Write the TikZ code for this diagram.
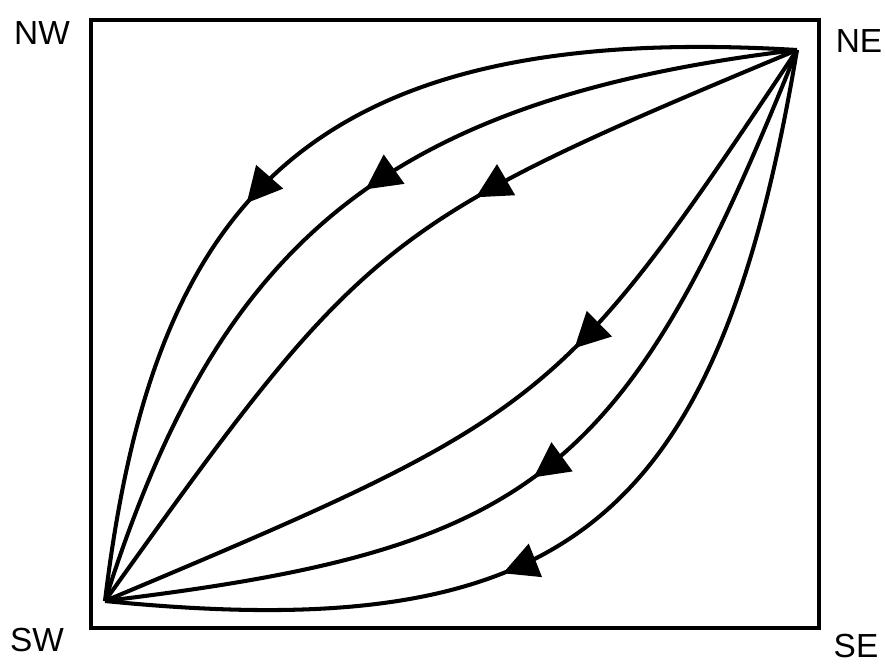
\documentclass[tikz,border=0pt]{standalone}
\usepackage{fontspec}
\setmainfont{Liberation Sans}
\usetikzlibrary{arrows.meta,decorations.markings}
\tikzset{
  flow/.style={line width=2.3pt,
    decoration={markings, mark=at position #1 with {\arrow{Triangle[length=0.7cm, width=0.7cm]}}},
    postaction={decorate}},
  corner/.style={font=\fontsize{19}{19}\selectfont, inner sep=0pt}
}
\begin{document}
\begin{tikzpicture}[x=0.02cm, y=-0.02cm]
  \useasboundingbox (0,0) rectangle (885,665);
  % frame
  \draw[line width=1.8pt] (91,20) rectangle (819,628);

  % corner labels
  \node[corner] (nw) at (42,33) {NW};
  \node[corner] (nelabel) at (859,41) {NE};
  \node[corner] (swlabel) at (37,640) {SW};
  \node[corner] (se) at (856,646) {SE};

  % end points of the flow lines
  \coordinate (ne) at (797,50);
  \coordinate (sw) at (105,601);

  % upper three
  \draw[flow=0.58] (ne) .. controls (298,20) and (152,211) .. (sw);
  \draw[flow=0.48] (ne) .. controls (377,100) and (216,250) .. (sw);
  \draw[flow=0.39] (ne) .. controls (380,224) and (366,236) .. (sw);

  % lower three
  \draw[flow=0.41] (ne) .. controls (560,405) and (550,414) .. (sw);
  \draw[flow=0.53] (ne) .. controls (626,477) and (536,549) .. (sw);
  \draw[flow=0.61] (ne) .. controls (717,526) and (565,647) .. (sw);
\end{tikzpicture}
\end{document}
